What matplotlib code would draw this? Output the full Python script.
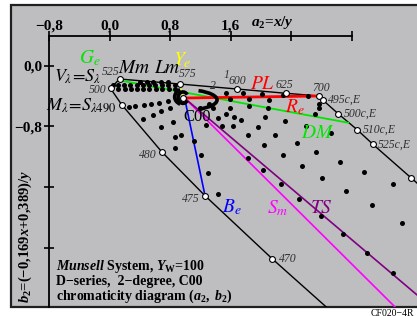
import matplotlib
matplotlib.use('Agg')
import matplotlib.pyplot as plt
from matplotlib.patches import Rectangle, Arc

plt.rcParams['font.family'] = ['Liberation Serif', 'DejaVu Serif']
plt.rcParams['mathtext.fontset'] = 'custom'
plt.rcParams['mathtext.rm'] = 'Liberation Serif:bold'
plt.rcParams['mathtext.it'] = 'Liberation Serif:italic:bold'
plt.rcParams['mathtext.bf'] = 'Liberation Serif:bold'

# ---------------- data (a2, b2) ----------------
locus_a = [2.95, 2.152, 1.261, 0.688, 0.159, 0.013, 0.132, 0.926, 1.684, 2.337, 2.769,
           2.821, 3.020, 3.271, 3.479, 3.985, 4.20]
locus_b = [-3.26, -2.549, -1.714, -1.133, -0.511, -0.299, -0.174, -0.240, -0.306, -0.363, -0.398,
           -0.455, -0.632, -0.843, -1.036, -1.480, -1.669]
marker_a = [2.152, 1.261, 0.688, 0.159, 0.013, 0.132, 0.926, 1.684, 2.337, 2.769,
            2.821, 3.020, 3.271, 3.479, 3.985]
marker_b = [-2.549, -1.714, -1.133, -0.511, -0.299, -0.174, -0.240, -0.306, -0.363, -0.398,
            -0.455, -0.632, -0.843, -1.036, -1.480]
white_a = [0.972]
white_b = [-0.425]

green_a, green_b = [0.106, 3.152], [-0.187, -0.751]
red_a, red_b = [0.992, 2.769], [-0.425, -0.398]
yellow_a, yellow_b = [0.926, 0.966], [-0.240, -0.418]
blue_a, blue_b = [0.992, 1.261], [-0.429, -1.714]
magenta_a, magenta_b = [1.005, 3.90], [-0.438, -3.31]
purple_a, purple_b = [1.005, 4.20], [-0.438, -3.14]

row1_a = [0.04, 0.11, 0.19, 0.27, 0.36, 0.44, 0.52, 0.60, 0.69, 0.77, 0.86]
row2_a = [0.11, 0.20, 0.28, 0.36, 0.44, 0.52, 0.61, 0.69, 0.78, 0.86]
row3_a = [0.40, 0.49, 0.58, 0.68, 0.77]
dots_a = (row1_a + row2_a + row3_a +
          [0.26, 0.34, 0.45, 0.55, 0.65, 0.77, 0.44, 0.57, 0.68, 0.80, 0.68, 0.84, 0.86, 0.95,
           0.86, 1.12, 1.21, 1.30, 1.43, 1.19, 1.32, 1.28, 1.43, 1.54,
           1.59, 1.76, 2.01, 1.84, 2.11, 2.62, 2.76, 1.37, 1.59, 1.84, 2.09, 2.77, 2.72,
           1.74, 1.63, 1.96, 2.32, 2.60, 2.93, 1.83, 2.18, 2.04, 2.47, 2.73, 2.29,
           1.54, 2.29, 1.65, 2.05, 1.48,
           1.83, 2.03, 2.54, 3.04, 3.36, 2.26, 2.81, 3.12, 3.75, 2.50, 3.46, 3.86, 2.79,
           3.08, 3.40, 3.75])
dots_b = ([-0.25] * len(row1_a) + [-0.31] * len(row2_a) + [-0.21] * len(row3_a) +
          [-0.54, -0.53, -0.52, -0.50, -0.49, -0.46, -0.70, -0.65, -0.60, -0.55, -0.81, -0.74, -0.94, -0.91,
           -1.09, -0.99, -1.18, -1.41, -1.69, -0.56, -0.50, -0.78, -0.69, -0.63,
           -0.44, -0.36, -0.37, -0.44, -0.45, -0.40, -0.50, -0.55, -0.55, -0.53, -0.56, -0.55, -0.64,
           -0.72, -0.80, -0.81, -0.73, -0.80, -0.88, -0.91, -0.91, -1.05, -1.02, -1.14, -1.18,
           -0.36, -0.39, -0.68, -0.67, -0.80,
           -1.21, -1.38, -1.32, -1.27, -1.40, -1.56, -1.48, -1.65, -1.56, -1.76, -1.84, -2.07, -1.98,
           -2.22, -2.47, -2.74])

MINUS = '\u2212'
xticks = [-0.8, 0.0, 0.8, 1.6, 2.4, 3.2]
xticklabels = [MINUS + '0,8', '0,0', '0,8', '1,6', '', '']
yticks = [0.0, -0.8, -1.6, -2.4]
yticklabels = ['0,0', MINUS + '0,8', '', '']

# ---------------- figure ----------------
W, H = 417, 316
fig = plt.figure(figsize=(W / 100, H / 100), dpi=100)
fig.patch.set_facecolor('white')
frame = Rectangle((11 / W, 9 / H), 1.2, (307 - 5) / H, transform=fig.transFigure,
                  figure=fig, facecolor='#bebec1', edgecolor='#202020', lw=1.6, zorder=-10)
fig.patches.append(frame)

ax = fig.add_axes([49 / W, 9 / H, (W - 49) / W, (307 - 35.5) / H])
ax.set_zorder(5)
ax.set_xlim(-0.8, 4.061)
ax.set_ylim(-3.182, 0.400)
ax.patch.set_alpha(0)
ax.spines['right'].set_visible(False)
ax.spines['bottom'].set_visible(False)
ax.spines['top'].set_bounds(-0.8, 3.2)
for s in ('top', 'left'):
    ax.spines[s].set_linewidth(1.3)
ax.xaxis.tick_top()
ax.set_xticks(xticks)
ax.set_xticklabels(xticklabels, fontweight='bold', fontsize=11)
ax.set_yticks(yticks)
ax.set_yticklabels(yticklabels, fontweight='bold', fontsize=11)
ax.tick_params(direction='inout', length=7, width=1.2)
ax.tick_params(axis='x', pad=-1.5)
ax.tick_params(axis='y', pad=1.5)

# lines
ax.plot(locus_a, locus_b, color='black', lw=1.0, zorder=3)
ax.plot(green_a, green_b, color='#00e600', lw=1.3, zorder=3)
ax.plot(red_a, red_b, color='#ff0000', lw=2.0, zorder=3)
ax.plot(blue_a, blue_b, color='#0000ff', lw=1.2, zorder=3)
ax.plot(magenta_a, magenta_b, color='#ff00ff', lw=1.2, zorder=3)
ax.plot(purple_a, purple_b, color='#800080', lw=1.2, zorder=3)
ax.plot(yellow_a, yellow_b, color='#ffff00', lw=1.2, ls=(0, (2, 1)), zorder=3)

# thick chroma loops near C00
for (cx, cy, w, h, t1, t2) in [(0.97, -0.42, 0.13, 0.15, 35, 325),
                               (1.00, -0.41, 0.28, 0.22, 125, 235),
                               (1.00, -0.45, 0.84, 0.27, -35, 35)]:
    ax.add_patch(Arc((cx, cy), w, h, theta1=t1, theta2=t2, lw=2.6, color='black', zorder=4))

ax.plot(dots_a, dots_b, 'o', color='black', ms=3.6, mec='none', zorder=5)
ax.plot(marker_a, marker_b, 'o', mfc='white', mec='black', mew=0.8, ms=4.2, zorder=6)
ax.plot(white_a, white_b, 'o', mfc='white', mec='black', mew=0.8, ms=4.2, zorder=6)

# labels
def lab(x, y, s, c='black', fs=14, ha='center', **kw):
    ax.text(x, y, s, color=c, fontsize=fs, ha=ha, va='center', math_fontfamily='stix', zorder=7, **kw)

lab(-0.265, 0.105, r'$G_e$', '#00e600')
lab(0.960, 0.075, r'$Y_e$', '#ffff00')
lab(-0.423, -0.140, r'$V_\lambda\!=\!S_\lambda$', fs=13)
lab(-0.370, -0.517, r'$M_\lambda\!=\!S_{\lambda 490}$', fs=13)
lab(0.331, -0.029, r'$Mm$')
lab(0.767, -0.029, r'$Lm$')
lab(1.614, -1.863, r'$B_e$', '#0000ff')
lab(2.024, -0.240, r'$PL$', '#ff0000')
lab(2.447, -0.544, r'$R_e$', '#ff0000')
lab(2.751, -0.887, r'$DM$', '#00e600')
lab(2.222, -1.876, r'$S_m$', '#ff00ff')
lab(2.804, -1.876, r'$TS$', '#800080')
ax.text(1.157, -0.669, 'C00', fontsize=12, ha='center', va='center', zorder=7)

small = dict(fontsize=8.5, fontstyle='italic', color='#303030', va='center', zorder=7)
for (x, y, s) in [(0.020, -0.075, '525'), (1.032, -0.108, '575'), (-0.159, -0.319, '500'),
                  (0.503, -1.183, '480'), (1.071, -1.757, '475'), (1.690, -0.194, '600'),
                  (2.302, -0.253, '625'), (2.791, -0.293, '700'), (1.545, -0.121, '1'),
                  (1.362, -0.266, '2')]:
    ax.text(x, y, s, ha='center', **small)
for (x, y, s) in [(2.884, -0.451, '495c,E'), (3.095, -0.636, '500c,E'),
                  (3.347, -0.840, '510c,E'), (3.545, -1.045, '525c,E'), (2.235, -2.549, '470')]:
    ax.text(x, y, s, ha='left', **small)

ax.text(2.15, 0.578, r'$a_2$=$x/y$', fontsize=11, fontweight='bold', ha='center', va='center')
ax.text(-0.701, -2.650, r'$Munsell$ System, $Y_{\mathrm{W}}$=100', fontsize=10, fontweight='bold', va='center')
ax.text(-0.701, -2.848, 'D' + MINUS + 'series,  2' + MINUS + 'degree, C00', fontsize=10, fontweight='bold', va='center')
ax.text(-0.701, -3.046, r'chromaticity diagram $(a_2,\ b_2)$', fontsize=10, fontweight='bold', va='center')

fig.text(25 / W, (316 - 236) / H, r'$b_2$=(' + MINUS + r'0,169$x$+0,389)/$y$', rotation=90,
         fontsize=10.5, fontweight='bold', ha='center', va='center')
fig.text(392 / W, (316 - 309) / H, 'CF020' + MINUS + '4R', fontsize=7, ha='center', va='top')

fig.savefig('out.png', dpi=100, facecolor='white')
